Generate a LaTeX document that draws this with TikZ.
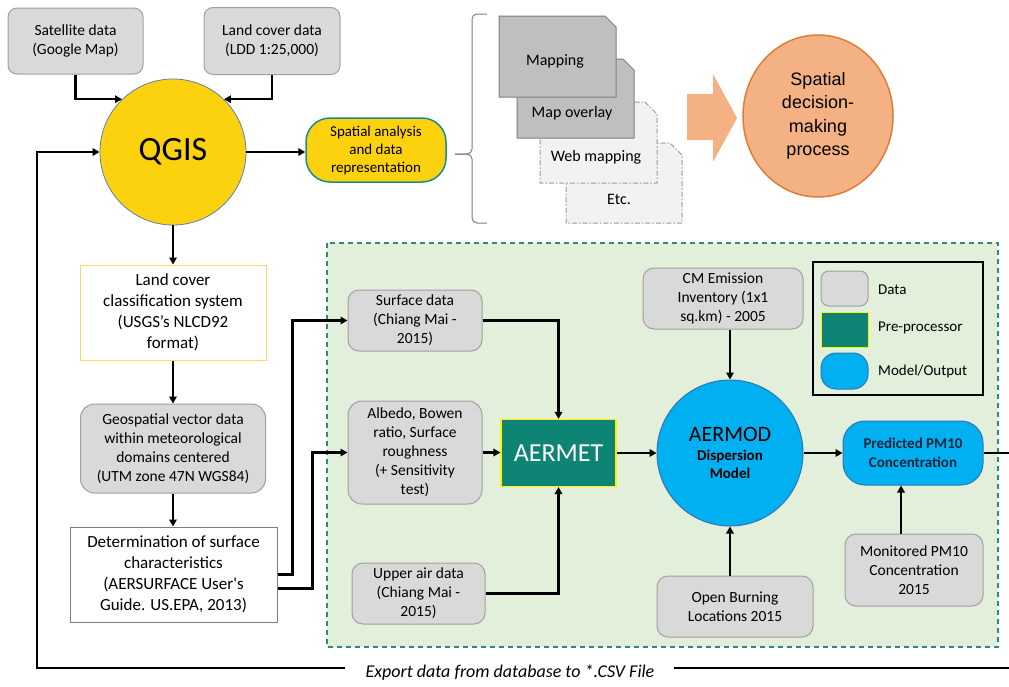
\documentclass[tikz,border=0pt]{standalone}
\usepackage{fontspec}
\setmainfont{Carlito}
\newfontfamily\arialf{Liberation Sans}
\usetikzlibrary{arrows.meta,shapes.geometric,calc}
\definecolor{datafill}{HTML}{D9D9D9}
\definecolor{databord}{HTML}{A0A0A0}
\definecolor{qyellow}{HTML}{FCD20F}
\definecolor{qborder}{HTML}{5B7FB5}
\definecolor{spaborder}{HTML}{1E8C8C}
\definecolor{lccborder}{HTML}{FFD966}
\definecolor{greenbg}{HTML}{E2EFDA}
\definecolor{greenbord}{HTML}{2E8B7A}
\definecolor{aerteal}{HTML}{0E8474}
\definecolor{mblue}{HTML}{00B0F0}
\definecolor{mbord}{HTML}{2E75B6}
\definecolor{salmon}{HTML}{F4B183}
\definecolor{salbord}{HTML}{E07B39}
\definecolor{docdark}{HTML}{BFBFBF}
\definecolor{doclight}{HTML}{F2F2F2}
\definecolor{docbord}{HTML}{7F7F7F}
\definecolor{predtxt}{HTML}{10253F}
\begin{document}
\begin{tikzpicture}[x=1pt,y=-1pt,
  lin/.style={line width=2.2pt,black},
  arr/.style={lin,-{Triangle[length=7pt,width=7.5pt]}},
  dat/.style={draw=databord,fill=datafill,line width=1pt,rounded corners=9pt,align=center,inner sep=0pt,font=\fontsize{15.5}{19}\selectfont},
  wbox/.style={fill=white,line width=1pt,align=center,inner sep=0pt,font=\fontsize{17}{21}\selectfont},
  doctxt/.style={font=\fontsize{16}{19}\selectfont,inner sep=0pt},
  legtxt/.style={anchor=west,font=\fontsize{15}{18}\selectfont,inner sep=0pt},
  docdraw/.style={draw=docbord,fill=docdark,line width=1pt},
  doclite/.style={draw=docbord!80,fill=doclight,line width=1pt,dash pattern=on 5pt off 2pt on 1.5pt off 2pt}
]
\useasboundingbox (0,0) rectangle (1009,686);
\fill[white] (0,0) rectangle (1009,686);

% green area
\draw[greenbord,fill=greenbg,line width=1.2pt,dash pattern=on 5pt off 4pt] (327,243) rectangle (998,647);

% top part
\node[dat,minimum width=135pt,minimum height=66pt] (sat) at (75.5,41) {Satellite data\\(Google Map)};
\node[dat,minimum width=136pt,minimum height=67pt] (lcd) at (272,41) {Land cover data\\(LDD 1:25,000)};
\node[circle,fill=qyellow,draw=qborder,line width=0.8pt,minimum size=146pt,inner sep=0pt,font=\fontsize{34}{40}\selectfont] (qgis) at (173,152) {QGIS};
\node[fill=qyellow,draw=spaborder,line width=1.5pt,rounded corners=24pt,minimum width=140pt,minimum height=64pt,align=center,inner sep=0pt,font=\fontsize{15}{18}\selectfont] (spa) at (376,150) {Spatial analysis\\and data\\representation};

% brace
\draw[docbord,line width=1pt,rounded corners=5pt] (487,14) -- (472,14) -- (472,154) -- (455,154);
\draw[docbord,line width=1pt,rounded corners=5pt] (455,154) -- (472,154) -- (472,223) -- (487,223);

% documents (back to front)
\draw[doclite] (566,143) -- (670,143) -- (682,155) -- (682,223) -- (566,223) -- cycle;
\draw[doclite] (540,102) -- (645,102) -- (657,114) -- (657,183) -- (540,183) -- cycle;
\draw[docdraw] (517,59) -- (623,59) -- (634,70) -- (634,138) -- (517,138) -- cycle;
\draw[docdraw] (499,16) -- (605,16) -- (616,27) -- (616,97) -- (499,97) -- cycle;
\node[doctxt] (tmap) at (555,61) {Mapping};
\node[doctxt] (tover) at (572,113) {Map overlay};
\node[doctxt] (tweb) at (596,157) {Web mapping};
\node[doctxt] (tetc) at (619,199) {Etc.};

% big arrow and decision circle
\fill[salmon] (687,94) -- (713,94) -- (713,74) -- (737,118) -- (713,162) -- (713,140) -- (687,140) -- cycle;
\node[ellipse,fill=salmon,draw=salbord,line width=1.5pt,minimum width=150pt,minimum height=162pt,inner sep=0pt,align=center,font=\arialf\fontsize{18}{23.5}\selectfont] (sdm) at (818,116) {Spatial\\decision-\\making\\process};

% left column
\node[wbox,draw=lccborder,minimum width=186pt,minimum height=95pt] (lcc) at (173,312.5) {Land cover\\classification system\\(USGS’s NLCD92\\format)};
\node[dat,minimum width=185pt,minimum height=89pt,rounded corners=14pt] (geo) at (173,448.5) {Geospatial vector data\\within meteorological\\domains centered\\(UTM zone 47N WGS84)};
\node[wbox,draw=docbord,minimum width=207pt,minimum height=95pt] (det) at (173.5,574.5) {Determination of surface\\characteristics\\(AERSURFACE User\textquotesingle s\\Guide. US.EPA, 2013)};

% green area contents
\node[dat,minimum width=134pt,minimum height=61pt,rounded corners=11pt] (surf) at (415,320.5) {Surface data\\(Chiang Mai -\\2015)};
\node[dat,minimum width=134pt,minimum height=103pt,rounded corners=14pt] (alb) at (415,452.5) {Albedo, Bowen\\ratio, Surface\\roughness\\(+ Sensitivity\\test)};
\node[dat,minimum width=133pt,minimum height=61pt,rounded corners=11pt] (upp) at (418.5,593.5) {Upper air data\\(Chiang Mai -\\2015)};
\node[fill=aerteal,draw=yellow,line width=1.2pt,minimum width=115pt,minimum height=67pt,inner sep=0pt,text=white,font=\fontsize{26}{30}\selectfont] (aermet) at (558.5,453) {AERMET};
\node[dat,minimum width=160pt,minimum height=61pt,rounded corners=11pt] (cm) at (723,298.5) {CM Emission\\Inventory (1x1\\sq.km) - 2005};
\node[circle,fill=mblue,draw=mbord,line width=1pt,minimum size=146pt,inner sep=0pt,align=center,font=\fontsize{15}{18}\selectfont\bfseries] (aermod) at (730,453) {{\fontsize{22}{24}\selectfont\mdseries AERMOD}\\[1pt]Dispersion\\Model};
\node[dat,minimum width=156pt,minimum height=61pt,rounded corners=11pt] (ob) at (735,606.5) {Open Burning\\Locations 2015};
\node[fill=mblue,draw=mbord,line width=1pt,rounded corners=22pt,minimum width=140pt,minimum height=64pt,align=center,inner sep=0pt,text=predtxt,font=\fontsize{15}{18.5}\selectfont\bfseries] (pred) at (913,453) {Predicted PM10\\Concentration};
\node[dat,minimum width=138pt,minimum height=72pt,rounded corners=11pt] (mon) at (914,570) {Monitored PM10\\Concentration\\2015};

% legend
\node[draw=black,line width=1.2pt,minimum width=170pt,minimum height=133pt,inner sep=0pt] (leg) at (898,328.5) {};
\node[dat,minimum width=47pt,minimum height=35pt,rounded corners=8pt] (ld) at (844.5,288.5) {};
\node[fill=aerteal,draw=yellow,line width=1pt,minimum width=47pt,minimum height=35pt,inner sep=0pt] (lp) at (844.5,329.5) {};
\node[fill=mblue,draw=mbord,line width=1pt,rounded corners=15pt,minimum width=47pt,minimum height=36pt,inner sep=0pt] (lm) at (844.5,371) {};
\node[legtxt] (ldt) at (878,290) {Data};
\node[legtxt] (lpt) at (878,328) {Pre-processor};
\node[legtxt] (lmt) at (878,371) {Model/Output};

% export text
\node[font=\fontsize{18}{20}\selectfont\itshape,inner sep=0pt] (export) at (510,673) {Export data from database to *.CSV File};

% connectors
\draw[arr] (sat.south) |- (qgis.134);
\draw[arr] (lcd.south) |- (qgis.46);
\draw[arr] (qgis.east) -- (qgis.east -| spa.west);
\draw[arr] (qgis.south) -- (lcc.north);
\draw[arr] (lcc.south) -- (geo.north);
\draw[arr] (geo.south) -- (geo.south |- det.north);
\draw[arr] (det.east) -- ++(15,0) |- (surf.west);
\draw[arr] ([yshift=-14pt]det.east) -- ++(35,0) |- (alb.west);
\draw[arr] (surf.east) -| (aermet.north);
\draw[arr] (upp.east) -| (aermet.south);
\draw[arr] (alb.east) -- (alb.east -| aermet.west);
\draw[arr] (aermet.east) -- (aermod.west);
\draw[arr] (cm.south -| aermod) -- (aermod.north);
\draw[arr] (ob.north -| aermod) -- (aermod.south);
\draw[arr] (aermod.east) -- (pred.west);
\draw[arr] ([xshift=-13pt]mon.north) -- ([xshift=-13pt]mon.north |- pred.south);
\coordinate (re) at (1012,453);
\coordinate (rb) at (1012,668);
\coordinate (lb) at (37,668);
\draw[lin] (pred.east) -- (re);
\draw[lin] (rb) -- ([xshift=19pt]export.east |- rb);
\draw[arr] ([xshift=-20pt]export.west |- lb) -- (lb) -- (lb |- qgis) -- (qgis.west);
\end{tikzpicture}
\end{document}
